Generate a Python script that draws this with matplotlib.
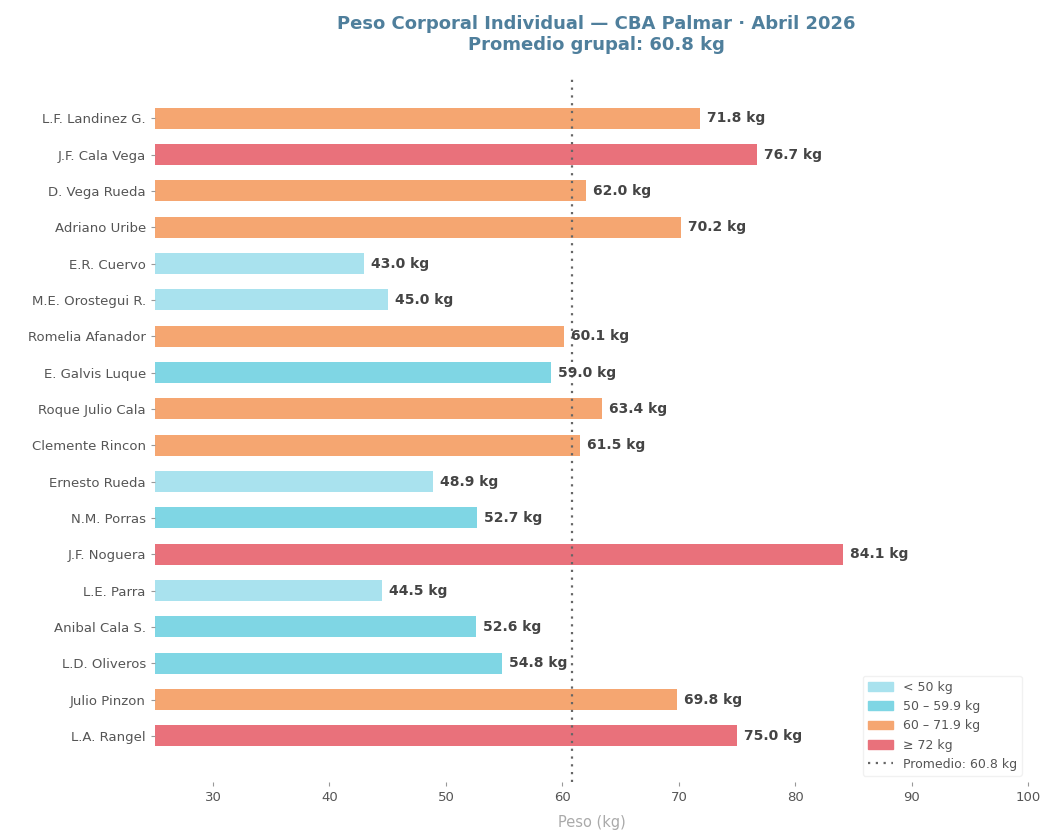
import numpy as np
import matplotlib.pyplot as plt
from matplotlib.patches import Patch
from matplotlib.lines import Line2D

# data, top to bottom as shown
names = ["L.F. Landinez G.", "J.F. Cala Vega", "D. Vega Rueda", "Adriano Uribe",
         "E.R. Cuervo", "M.E. Orostegui R.", "Romelia Afanador", "E. Galvis Luque",
         "Roque Julio Cala", "Clemente Rincon", "Ernesto Rueda", "N.M. Porras",
         "J.F. Noguera", "L.E. Parra", "Anibal Cala S.", "L.D. Oliveros",
         "Julio Pinzon", "L.A. Rangel"]
pesos = [71.8, 76.7, 62.0, 70.2, 43.0, 45.0, 60.1, 59.0, 63.4, 61.5,
         48.9, 52.7, 84.1, 44.5, 52.6, 54.8, 69.8, 75.0]
promedio = 60.8

col_low = "#a9e2ee"
col_mid = "#7fd6e4"
col_high = "#f5a671"
col_top = "#e9717b"

def color_for(p):
    if p < 50:
        return col_low
    elif p < 60:
        return col_mid
    elif p < 72:
        return col_high
    return col_top

colors = [color_for(p) for p in pesos]

fig = plt.figure(figsize=(10.46, 8.32), dpi=100)
ax = fig.add_axes([0.148, 0.060, 0.835, 0.846])

y = np.arange(len(names))
ax.barh(y, pesos, height=0.58, color=colors, left=0)
for yi, p in zip(y, pesos):
    ax.text(p + 0.6, yi, f"{p:.1f} kg", va="center", ha="left",
            fontsize=10, fontweight="bold", color="#444444")

ax.axvline(promedio, color="#666666", linestyle=(0, (1, 2.5)), linewidth=1.6)

ax.set_yticks(y)
ax.set_yticklabels(names)
ax.set_ylim(18.27, -1.1)
ax.set_xlim(25, 100)
ax.set_xticks(np.arange(30, 101, 10))

for s in ax.spines.values():
    s.set_visible(False)
ax.tick_params(axis="both", colors="#999999", labelcolor="#555555", labelsize=9.5, length=3)
ax.set_xlabel("Peso (kg)", color="#aaaaaa", fontsize=10.5, labelpad=8)

fig.suptitle("Peso Corporal Individual \u2014 CBA Palmar \u00b7 Abril 2026\nPromedio grupal: 60.8 kg",
             x=0.57, y=0.982, fontsize=13, fontweight="bold", color="#4f7f9c")

handles = [Patch(color=col_low, label="< 50 kg"),
           Patch(color=col_mid, label="50 \u2013 59.9 kg"),
           Patch(color=col_high, label="60 \u2013 71.9 kg"),
           Patch(color=col_top, label="\u2265 72 kg"),
           Line2D([0], [0], color="#666666", linestyle=(0, (1, 2.5)), linewidth=1.6,
                  label=f"Promedio: {promedio} kg")]
leg = ax.legend(handles=handles, loc="lower right", fontsize=9, frameon=True,
                labelcolor="#555555", bbox_to_anchor=(1.0, 0.0))
leg.get_frame().set_edgecolor("#eeeeee")

plt.savefig("out.png", dpi=100)
